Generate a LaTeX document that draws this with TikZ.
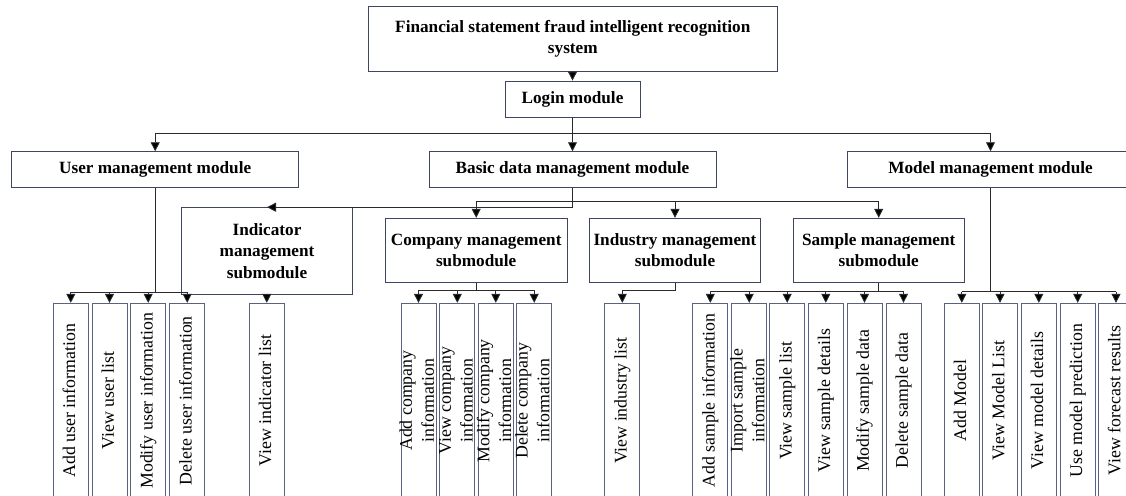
\documentclass[tikz,border=0pt]{standalone}
\usepackage{fontspec}
\setmainfont{Liberation Serif}
\usetikzlibrary{arrows.meta}

\definecolor{boxline}{HTML}{3E4560}
\definecolor{leafline}{HTML}{5A6280}
\definecolor{linkcol}{HTML}{2A2A2A}

% vertical label for the function boxes
\newcommand\vlabel[1]{\makebox[0pt]{\rotatebox{90}{\begin{tabular}{@{}c@{}}#1\end{tabular}}}}

\begin{document}
\begin{tikzpicture}[x=1pt,y=-1pt,
  box/.style={draw=boxline, line width=0.9pt, inner sep=0pt, align=center,
    font=\fontsize{17.2}{21.5}\selectfont\bfseries},
  leaf/.style={draw=leafline, line width=0.9pt, inner sep=0pt,
    minimum width=35pt, minimum height=194.7pt,
    font=\fontsize{17.8}{21.8}\selectfont},
  link/.style={draw=linkcol, line width=0.9pt},
  arr/.style={link, -{Triangle[width=9pt,length=9pt,fill=black]}}]

\path[use as bounding box, clip] (0,0) rectangle (1126,495);

% system and modules
\node[box, minimum width=409pt, minimum height=65.7pt] (sys) at (572.8,38.9)
  {Financial statement fraud intelligent recognition\\system};
\node[box, minimum width=135pt, minimum height=36.3pt] (login) at (572.5,99.2) {Login module};
\node[box, minimum width=287pt, minimum height=36pt] (user) at (155.2,169.7) {User management module};
\node[box, minimum width=287pt, minimum height=36pt] (basic) at (572.5,169.7) {Basic data management module};
\node[box, minimum width=287pt, minimum height=36pt] (model) at (990.5,169.7) {Model management module};

% submodules
\node[box, minimum width=170.6pt, minimum height=86.3pt] (ind) at (267,250.8)
  {Indicator\\management\\submodule};
\node[box, minimum width=182.3pt, minimum height=64pt] (comp) at (476.2,250.3)
  {Company management\\submodule};
\node[box, minimum width=171.4pt, minimum height=64pt] (indu) at (675,250.3)
  {Industry management\\submodule};
\node[box, minimum width=170.7pt, minimum height=64pt] (samp) at (878.7,250.3)
  {Sample management\\submodule};

% function boxes
\foreach \nm/\x/\t in {
  u1/70.8/{Add user information},
  u2/109.5/{View user list},
  u3/148.2/{Modify user information},
  u4/187.2/{Delete user information},
  i1/266.8/{View indicator list},
  c1/418.5/{Add company\\information},
  c2/457.3/{View company\\information},
  c3/495.8/{Modify company\\information},
  c4/534.2/{Delete company\\information},
  n1/622.3/{View industry list},
  s1/710.3/{Add sample information},
  s2/749.2/{Import sample\\information},
  s3/787.2/{View sample list},
  s4/825.8/{View sample details},
  s5/864.5/{Modify sample data},
  s6/903.5/{Delete sample data},
  m1/961.8/{Add Model},
  m2/1000/{View Model List},
  m3/1038.8/{View model details},
  m4/1077.7/{Use model prediction},
  m5/1116/{View forecast results}}
  \node[leaf] (\nm) at (\x,400.65) {\vlabel{\t}};

% bus levels
\coordinate (lbus) at (0,133.5);
\coordinate (bbus) at (0,201.7);
\coordinate (ubus) at (0,292.3);
\coordinate (cbus) at (0,290);
\coordinate (sbus) at (0,291);
\coordinate (mbus) at (0,291.7);

% system -> login -> modules
\draw[arr] (sys.south -| login.north) -- (login.north);
\draw[link] (login.south) -- (login.south |- lbus);
\draw[link] (user.north |- lbus) -- (model.north |- lbus);
\foreach \m in {user,basic,model}
  \draw[arr] (\m.north |- lbus) -- (\m.north);

% basic data -> submodules
\draw[arr] (basic.south) |- (ind.north);
\draw[link] (comp.north |- bbus) -- (samp.north |- bbus);
\foreach \m in {comp,indu,samp}
  \draw[arr] (\m.north |- bbus) -- (\m.north);

% user module functions
\draw[link] (user.south) -- (user.south |- ubus);
\draw[link] (u1.north |- ubus) -- (u4.north |- ubus);
\foreach \m in {u1,u2,u3,u4}
  \draw[arr] (\m.north |- ubus) -- (\m.north);

% indicator functions
\draw[arr] (i1.north |- ind.south) -- (i1.north);

% company functions
\draw[link] (comp.south) -- (comp.south |- cbus);
\draw[link] (c1.north |- cbus) -- (c4.north |- cbus);
\foreach \m in {c1,c2,c3,c4}
  \draw[arr] (\m.north |- cbus) -- (\m.north);

% industry functions
\draw[arr] (indu.south) -- (indu.south |- cbus) -| (n1.north);

% sample functions
\draw[link] (samp.south) -- (samp.south |- sbus);
\draw[link] (s1.north |- sbus) -- (s6.north |- sbus);
\foreach \m in {s1,s2,s3,s4,s5,s6}
  \draw[arr] (\m.north |- sbus) -- (\m.north);

% model functions
\draw[link] (model.south) -- (model.south |- mbus);
\draw[link] (m1.north |- mbus) -- (m5.north |- mbus);
\foreach \m in {m1,m2,m3,m4,m5}
  \draw[arr] (\m.north |- mbus) -- (\m.north);

\end{tikzpicture}
\end{document}
